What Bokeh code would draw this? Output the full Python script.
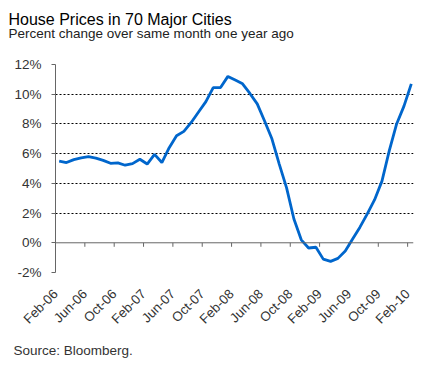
import math
from bokeh.plotting import figure
from bokeh.models import (Range1d, FixedTicker, PrintfTickFormatter, Span, Title,
                          ColumnDataSource)
from bokeh.embed import file_html
from bokeh.resources import INLINE

# ---- data ----
month_index = list(range(49))  # Feb-06 .. Feb-10, monthly
yoy_change = [5.5, 5.4, 5.6, 5.72, 5.8, 5.7, 5.55, 5.35, 5.38, 5.22,
              5.33, 5.62, 5.3, 5.95, 5.4, 6.4, 7.2, 7.5, 8.1, 8.8,
              9.5, 10.45, 10.45, 11.2, 10.95, 10.7, 10.05, 9.35, 8.2, 7.0,
              5.3, 3.7, 1.6, 0.2, -0.35, -0.3, -1.1, -1.25, -1.05, -0.55,
              0.25, 1.05, 1.95, 2.9, 4.15, 6.2, 8.0, 9.2, 10.7]
tick_labels = ["Feb-06", "Jun-06", "Oct-06", "Feb-07", "Jun-07", "Oct-07",
               "Feb-08", "Jun-08", "Oct-08", "Feb-09", "Jun-09", "Oct-09",
               "Feb-10"]
y_ticks = [-2, 0, 2, 4, 6, 8, 10, 12]

FONT = "Liberation Sans"
AXIS_COLOR = "#666666"

p = figure(width=440, height=365, output_backend="svg", toolbar_location=None,
           x_range=Range1d(-0.5, 48.3), y_range=Range1d(-2, 12),
           min_border_left=55, min_border_right=27, min_border_top=63,
           min_border_bottom=93)
p.outline_line_color = None

src = ColumnDataSource(dict(x=month_index, y=yoy_change))

# x tick positions at category boundaries every 4 months
x_tick_pos = [4 * j - 0.5 for j in range(len(tick_labels))]

# zero line acting as the category axis
p.add_layout(Span(location=0, dimension="width", line_color=AXIS_COLOR,
                  line_width=1))
p.ray(x=x_tick_pos, y=[0] * len(x_tick_pos), length=4, length_units="screen",
      angle=-math.pi / 2, line_color=AXIS_COLOR, line_width=1)

p.line("x", "y", source=src, line_color="#0066cc", line_width=2.8)

xa = p.xaxis[0]
xa.ticker = FixedTicker(ticks=x_tick_pos)
xa.major_label_overrides = {t: lab for t, lab in zip(x_tick_pos, tick_labels)}
xa.major_label_orientation = math.pi / 4
xa.axis_line_color = None
xa.major_tick_line_color = None
xa.minor_tick_line_color = None
xa.major_tick_out = 0
xa.major_tick_in = 0
xa.major_label_standoff = 19
xa.major_label_text_font = FONT
xa.major_label_text_font_size = "13.3px"
xa.major_label_text_color = "#333333"

ya = p.yaxis[0]
ya.ticker = FixedTicker(ticks=y_ticks)
ya.formatter = PrintfTickFormatter(format="%d%%")
ya.axis_line_color = AXIS_COLOR
ya.major_tick_line_color = AXIS_COLOR
ya.major_tick_out = 4
ya.major_tick_in = 0
ya.minor_tick_line_color = None
ya.major_label_standoff = 10
ya.major_label_text_font = FONT
ya.major_label_text_font_size = "13.5px"
ya.major_label_text_color = "#333333"

p.xgrid.grid_line_color = None
p.ygrid.ticker = FixedTicker(ticks=[t for t in y_ticks if t != 0])
p.ygrid.grid_line_color = "#000000"
p.ygrid.grid_line_dash = "2 2"
p.ygrid.grid_line_width = 1

p.add_layout(Title(text="Percent change over same month one year ago",
                   align="left", offset=-47, standoff=47, text_font=FONT,
                   text_font_size="13.5px", text_font_style="normal",
                   text_color="#222222"), "above")
p.add_layout(Title(text="House Prices in 70 Major Cities", align="left",
                   offset=-47, standoff=-54, text_font=FONT,
                   text_font_size="16px", text_font_style="normal",
                   text_color="#000000"), "above")
p.add_layout(Title(text="Source: Bloomberg.", align="left", offset=-42,
                   standoff=12, text_font=FONT, text_font_size="13.5px",
                   text_font_style="normal", text_color="#333333"), "below")

open("out.html", "w").write(file_html(p, INLINE))
